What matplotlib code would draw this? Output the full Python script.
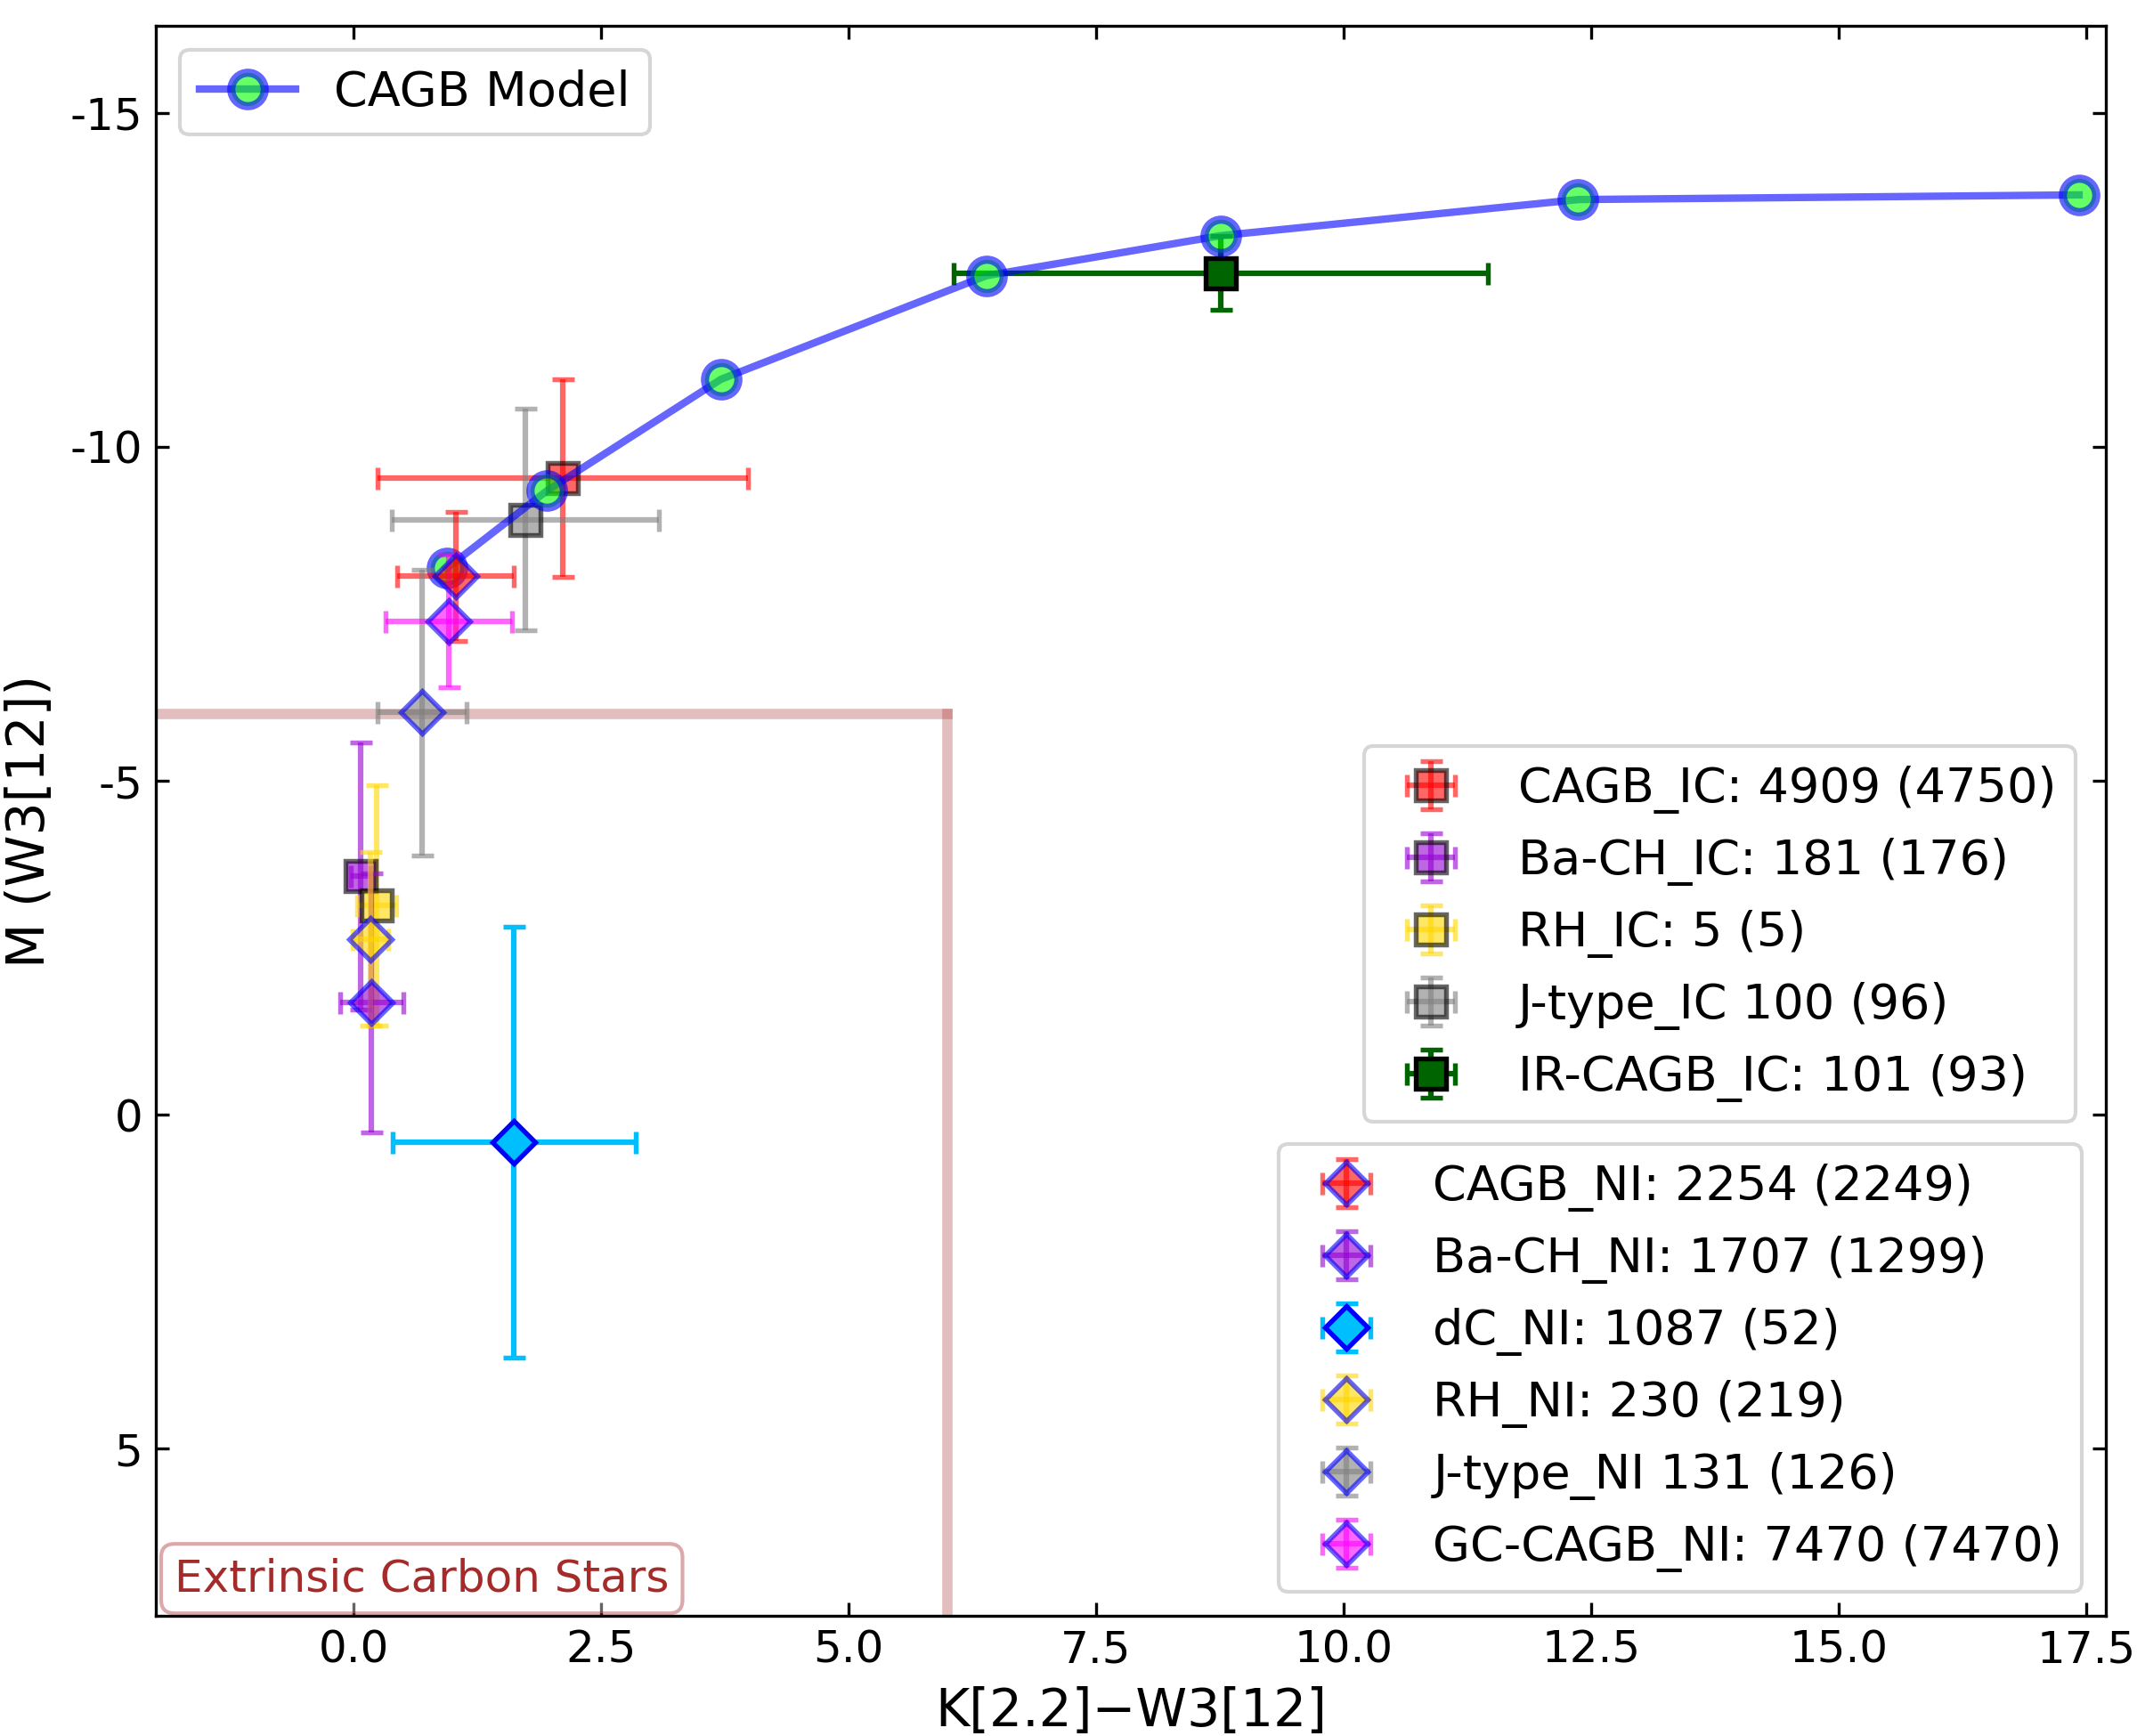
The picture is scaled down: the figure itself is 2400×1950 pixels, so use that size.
import matplotlib
matplotlib.use('Agg')
import matplotlib.pyplot as plt
import numpy as np

plt.rcParams['axes.unicode_minus'] = False

# CAGB model track
model_x = [0.94, 1.95, 3.71, 6.39, 8.76, 12.37, 17.43]
model_y = [-8.18, -9.34, -11.01, -12.56, -13.16, -13.70, -13.77]

# IC samples (squares)
ic_labels = ['CAGB_IC: 4909 (4750)', 'Ba-CH_IC: 181 (176)', 'RH_IC: 5 (5)',
             'J-type_IC 100 (96)', 'IR-CAGB_IC: 101 (93)']
ic_x = [2.11, 0.07, 0.23, 1.73, 8.76]
ic_y = [-9.53, -3.57, -3.14, -8.91, -12.60]
ic_xerr = [1.87, 0.10, 0.20, 1.35, 2.70]
ic_yerr = [1.48, 2.00, 1.80, 1.66, 0.55]
ic_colors = ['red', 'darkviolet', 'gold', 'gray', 'darkgreen']
ic_alpha = [0.6, 0.6, 0.6, 0.6, 1.0]

# NI samples (diamonds)
ni_labels = ['CAGB_NI: 2254 (2249)', 'Ba-CH_NI: 1707 (1299)', 'dC_NI: 1087 (52)',
             'RH_NI: 230 (219)', 'J-type_NI 131 (126)', 'GC-CAGB_NI: 7470 (7470)']
ni_x = [1.03, 0.18, 1.62, 0.17, 0.69, 0.96]
ni_y = [-8.06, -1.68, 0.41, -2.63, -6.02, -7.39]
ni_xerr = [0.59, 0.32, 1.23, 0.18, 0.45, 0.64]
ni_yerr = [0.97, 1.94, 3.23, 1.30, 2.14, 0.99]
ni_colors = ['red', 'darkviolet', 'deepskyblue', 'gold', 'gray', 'magenta']
ni_alpha = [0.6, 0.6, 1.0, 0.6, 0.6, 0.6]

# extrinsic region boundary
cut_x = 6
cut_y = -6

fig = plt.figure(figsize=(8, 6.5), dpi=300)
ax = fig.add_axes([0.0729, 0.0692, 0.9125, 0.9159])

xmin, xmax = -2.0, 17.7
ymin, ymax = 7.5, -16.3

ax.plot([xmin, cut_x], [cut_y, cut_y], color='brown', alpha=0.3, lw=2.8, zorder=1)
ax.plot([cut_x, cut_x], [cut_y, ymin], color='brown', alpha=0.3, lw=2.8, zorder=1)

ic_handles = []
for i in range(len(ic_x)):
    h = ax.errorbar(ic_x[i], ic_y[i], xerr=ic_xerr[i], yerr=ic_yerr[i], fmt='s',
                    color=ic_colors[i], mfc=ic_colors[i], mec='black', ms=8, mew=1.3,
                    elinewidth=1.5, capsize=3, capthick=1.5, alpha=ic_alpha[i],
                    label=ic_labels[i], zorder=3)
    ic_handles.append(h)

model_line, = ax.plot(model_x, model_y, '-o', color='blue', alpha=0.6, lw=2,
                      mfc='lime', mec='blue', ms=9, mew=2.2, label='CAGB Model', zorder=4)

ni_handles = []
for i in range(len(ni_x)):
    h = ax.errorbar(ni_x[i], ni_y[i], xerr=ni_xerr[i], yerr=ni_yerr[i], fmt='D',
                    color=ni_colors[i], mfc=ni_colors[i], mec='blue', ms=8, mew=1.3,
                    elinewidth=1.5, capsize=3, capthick=1.5, alpha=ni_alpha[i],
                    label=ni_labels[i], zorder=5)
    ni_handles.append(h)

ax.set_xlim(xmin, xmax)
ax.set_ylim(ymin, ymax)
ax.set_xticks([0.0, 2.5, 5.0, 7.5, 10.0, 12.5, 15.0, 17.5])
ax.set_yticks([-15, -10, -5, 0, 5])
ax.tick_params(direction='in', top=True, right=True, labelsize=12)
ax.set_xlabel('K[2.2]\u2212W3[12]', fontsize=14)
ax.set_ylabel('M (W3[12])', fontsize=14)

ax.text(0.0096, 0.010, 'Extrinsic Carbon Stars', transform=ax.transAxes,
        color='brown', fontsize=12, ha='left', va='bottom', zorder=6,
        bbox=dict(boxstyle='round', facecolor='white', edgecolor='brown', alpha=0.4))

leg1 = ax.legend(handles=[model_line], loc='upper left', fontsize=13)
ax.add_artist(leg1)
leg2 = ax.legend(handles=ic_handles, loc='lower right', bbox_to_anchor=(0.9845, 0.3108),
                 borderaxespad=0, fontsize=13)
ax.add_artist(leg2)
ax.legend(handles=ni_handles, loc='lower right', fontsize=13)

fig.savefig('out.png', dpi=300)
